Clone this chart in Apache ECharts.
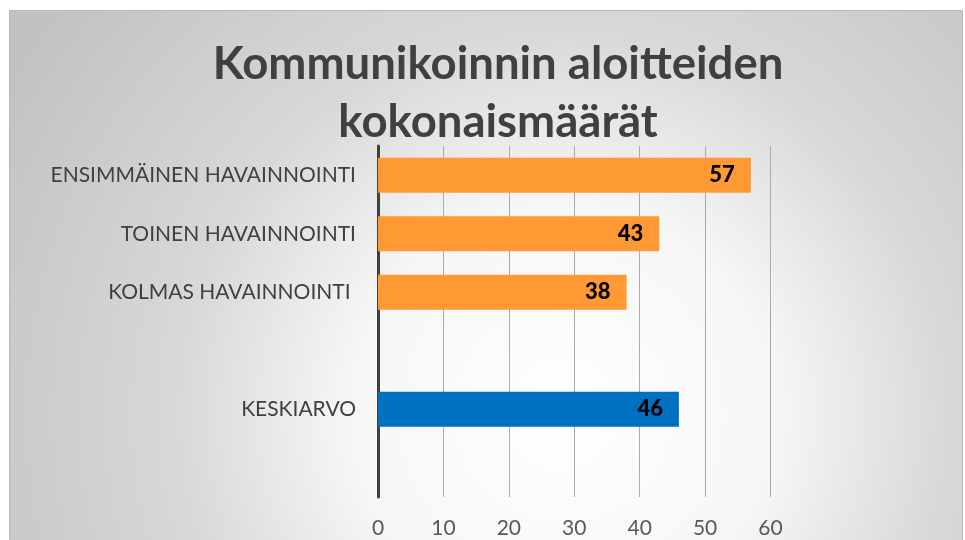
<!DOCTYPE html>
<html>
<head>
<meta charset="utf-8">
<script src="https://cdn.jsdelivr.net/npm/echarts@6/dist/echarts.min.js"></script>
<style>
html,body{margin:0;padding:0;background:#fff;}
#c{width:965px;height:540px;}
</style>
</head>
<body>
<div id="c"></div>
<script>
const categories = ['ENSIMMÄINEN HAVAINNOINTI', 'TOINEN HAVAINNOINTI', 'KOLMAS HAVAINNOINTI ', ' ', 'KESKIARVO', '  '];
const values = [57, 43, 38, null, 46, null];
const barColors = ['#FF9933', '#FF9933', '#FF9933', '#FF9933', '#0070C0', '#0070C0'];
const tickMin = 0, tickMax = 60, tickStep = 10;
const titleText = 'Kommunikoinnin aloitteiden\nkokonaismäärät';

const FONT = 'Lato';
const chart = echarts.init(document.getElementById('c'));
chart.setOption({
  backgroundColor: '#ffffff',
  animation: false,
  graphic: [{
    type: 'rect', z: -100, silent: true,
    shape: {x: 9.5, y: 10.5, width: 953, height: 560},
    style: {
      fill: {
        type: 'radial', x: 0.58, y: 0.72, r: 1.15,
        colorStops: [
          {offset: 0, color: '#ffffff'},
          {offset: 0.33, color: '#f6f6f6'},
          {offset: 0.6, color: '#d8d8d8'},
          {offset: 1, color: '#c2c2c2'}
        ]
      },
      stroke: '#b8b8b8', lineWidth: 1
    }
  }],
  title: {
    text: titleText,
    left: 493, top: 30, textAlign: 'center',
    textStyle: {fontFamily: FONT, fontWeight: 'bold', fontSize: 45.5, lineHeight: 58, color: '#404040'}
  },
  grid: {left: 378, right: 194.5, top: 146, bottom: 43, containLabel: false},
  xAxis: {
    type: 'value', min: tickMin, max: tickMax, interval: tickStep,
    axisLine: {show: false}, axisTick: {show: false},
    splitLine: {show: true, lineStyle: {color: '#ababab', width: 1}},
    axisLabel: {color: '#595959', fontFamily: FONT, fontSize: 21, margin: 21}
  },
  yAxis: {
    type: 'category', data: categories, inverse: true,
    axisLine: {show: true, lineStyle: {color: '#404040', width: 3}},
    axisTick: {show: false},
    axisLabel: {color: '#404040', fontFamily: FONT, fontSize: 21, margin: 22}
  },
  series: [{
    type: 'bar',
    barWidth: 35,
    data: values.map((v, i) => ({value: v, itemStyle: {color: barColors[i]}})),
    label: {
      show: true, position: 'insideRight', distance: 16,
      color: '#000000', fontFamily: FONT, fontWeight: 900, fontSize: 22
    }
  }]
});
</script>
</body>
</html>
